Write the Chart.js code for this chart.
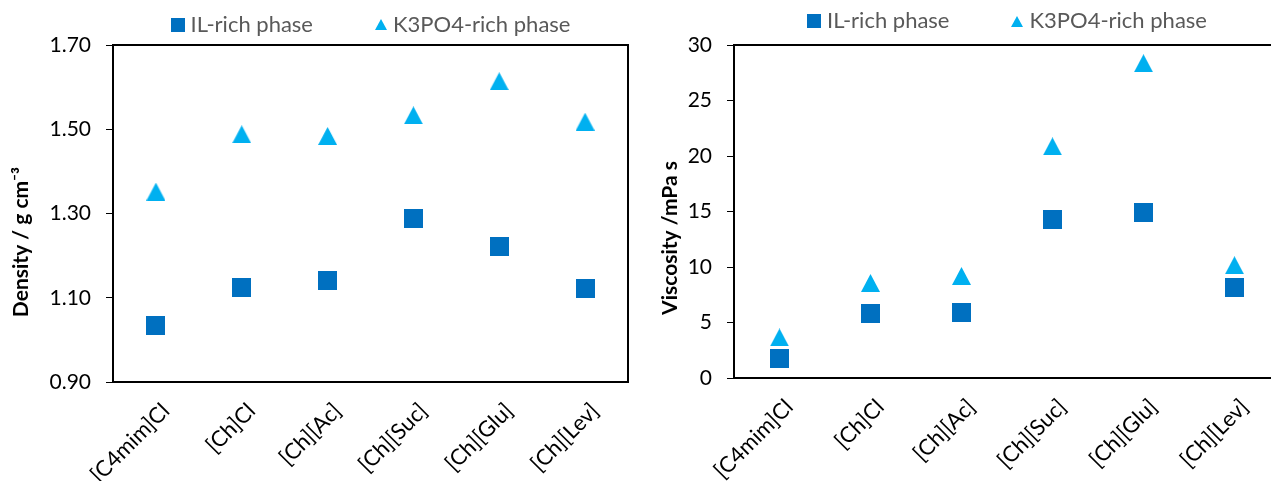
<!DOCTYPE html>
<html>
<head>
<meta charset="utf-8">
<script src="https://cdn.jsdelivr.net/npm/chart.js@4.4.1/dist/chart.umd.min.js"></script>
<style>
html, body { margin:0; padding:0; background:#fff; overflow:hidden; }
#density { position:absolute; left:0; top:0; }
#viscosity { position:absolute; left:640px; top:0; }
</style>
</head>
<body>
<canvas id="density" width="640" height="481"></canvas>
<canvas id="viscosity" width="660" height="481"></canvas>
<script>
// data
const categories = ['[C4mim]Cl', '[Ch]Cl', '[Ch][Ac]', '[Ch][Suc]', '[Ch][Glu]', '[Ch][Lev]']
const seriesNames = ['IL-rich phase', 'K3PO4-rich phase']
const densityIL = [1.035, 1.125, 1.142, 1.288, 1.222, 1.122]
const densityK3PO4 = [1.352, 1.488, 1.484, 1.533, 1.614, 1.518]
const viscosityIL = [1.76, 5.83, 5.92, 14.30, 14.93, 8.17]
const viscosityK3PO4 = [3.65, 8.56, 9.19, 20.87, 28.36, 10.16]
const densityTicks = [0.90, 1.10, 1.30, 1.50, 1.70]
const viscosityTicks = [0, 5, 10, 15, 20, 25, 30]

const BLUE = '#0070C0'
const CYAN = '#00B0F0'
const FONT = 'Lato, "Open Sans", sans-serif'

function squareMarker(size, color) {
    const c = document.createElement('canvas')
    c.width = size; c.height = size
    const x = c.getContext('2d')
    x.fillStyle = color
    x.fillRect(0, 0, size, size)
    return c
}

function triangleMarker(w, h, color) {
    const c = document.createElement('canvas')
    c.width = w; c.height = h
    const x = c.getContext('2d')
    x.fillStyle = color
    x.beginPath()
    x.moveTo(w / 2, 0)
    x.lineTo(w, h)
    x.lineTo(0, h)
    x.closePath()
    x.fill()
    return c
}

// frame round the plot, legend over it, rotated axis title
const sheetPlugin = {
    id: 'sheet',
    beforeDatasetsDraw(chart) {
        const { ctx, chartArea: a } = chart
        ctx.save()
        ctx.strokeStyle = '#000'
        ctx.lineWidth = 2
        ctx.strokeRect(a.left, a.top, a.right - a.left, a.bottom - a.top)
        ctx.restore()
    },
    afterDraw(chart, args, opts) {
        const { ctx, chartArea: a } = chart
        ctx.save()
        // legend
        ctx.font = opts.legendFont
        ctx.textBaseline = 'middle'
        ctx.fillStyle = '#595959'
        const items = chart.data.datasets.map(d => ({ text: d.label, marker: d.legendMarker, w: ctx.measureText(d.label).width }))
        let total = 0
        items.forEach((it, i) => {
            total += it.marker.width + opts.markerGap + it.w
            if (i > 0) total += opts.itemGap
        })
        let x = (a.left + a.right) / 2 - total / 2
        items.forEach(it => {
            ctx.drawImage(it.marker, Math.round(x), Math.round(opts.legendY - it.marker.height / 2))
            x += it.marker.width + opts.markerGap
            ctx.fillText(it.text, x, opts.legendY)
            x += it.w + opts.itemGap
        })
        // axis title
        ctx.font = opts.titleFont
        ctx.fillStyle = '#000'
        ctx.textAlign = 'center'
        ctx.translate(opts.titleX, opts.titleY)
        ctx.rotate(-Math.PI / 2)
        ctx.fillText(opts.title, 0, 0)
        ctx.restore()
    }
}

function makeChart(id, ilData, k3Data, ticks, cfg) {
    const ctx = document.getElementById(id).getContext('2d')
    return new Chart(ctx, {
        type: 'line',
        data: {
            labels: categories,
            datasets: [{
                label: seriesNames[0],
                data: ilData,
                showLine: false,
                pointStyle: squareMarker(19, BLUE),
                legendMarker: squareMarker(14, BLUE),
                pointRadius: 10
            }, {
                label: seriesNames[1],
                data: k3Data,
                showLine: false,
                pointStyle: triangleMarker(19, 18, CYAN),
                legendMarker: triangleMarker(12, 11, CYAN),
                pointRadius: 10
            }]
        },
        options: {
            responsive: false,
            animation: false,
            layout: { padding: { top: cfg.top, right: cfg.right, left: 0, bottom: 0 } },
            plugins: {
                legend: { display: false },
                tooltip: { enabled: false },
                sheet: {
                    legendFont: '22px ' + FONT,
                    legendY: cfg.legendY,
                    markerGap: 6,
                    itemGap: 62,
                    title: cfg.title,
                    titleFont: 'bold 21px ' + FONT,
                    titleX: cfg.titleX,
                    titleY: cfg.titleY
                }
            },
            scales: {
                x: {
                    offset: true,
                    grid: { display: false },
                    border: { display: true, color: '#000', width: 2 },
                    ticks: {
                        autoSkip: false,
                        maxRotation: 45,
                        minRotation: 45,
                        padding: 8,
                        labelOffset: 10,
                        color: '#000',
                        font: { family: FONT, size: 22 }
                    },
                    afterFit: s => { s.height = cfg.xHeight }
                },
                y: {
                    min: ticks[0],
                    max: ticks[ticks.length - 1],
                    afterBuildTicks: s => { s.ticks = ticks.map(v => ({ value: v })) },
                    grid: { display: true, drawOnChartArea: false, drawTicks: true, tickLength: 7, color: '#000', lineWidth: 1 },
                    border: { display: true, color: '#000', width: 2 },
                    ticks: {
                        padding: 15,
                        color: '#000',
                        font: { family: FONT, size: 21 },
                        callback: v => v.toFixed(cfg.decimals)
                    },
                    afterFit: s => { s.width = cfg.yWidth }
                }
            }
        },
        plugins: [sheetPlugin]
    })
}

makeChart('density', densityIL, densityK3PO4, densityTicks, {
    top: 45, right: 12, xHeight: 99, yWidth: 113, decimals: 2,
    legendY: 24.5, title: 'Density / g cm\u207B\u00B3', titleX: 21, titleY: 242
})

makeChart('viscosity', viscosityIL, viscosityK3PO4, viscosityTicks, {
    top: 45, right: 20, xHeight: 103, yWidth: 94, decimals: 0,
    legendY: 21, title: 'Viscosity /mPa s', titleX: 30, titleY: 238
})
</script>
</body>
</html>
